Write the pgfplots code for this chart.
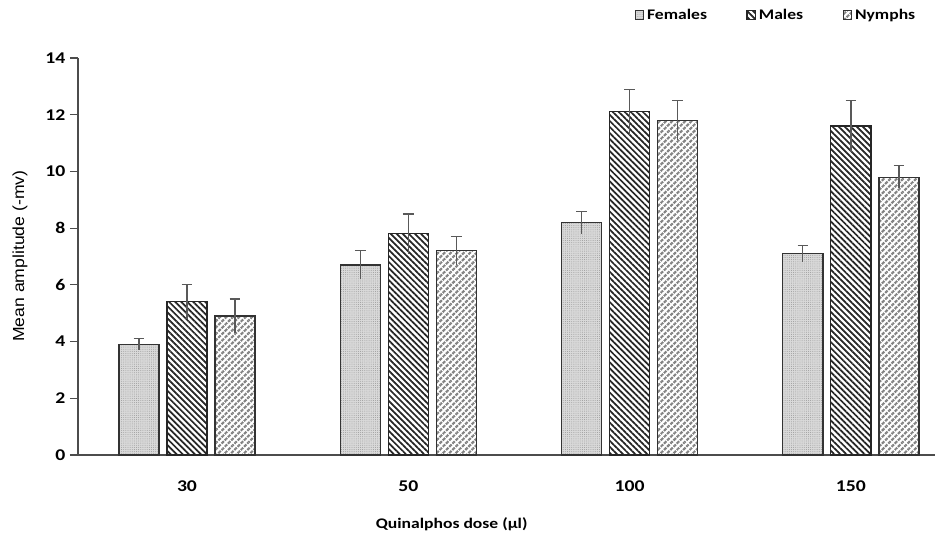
\documentclass[border=0pt]{standalone}
\usepackage{fontspec}
\setmainfont{Carlito}[FakeStretch=1.2]
\newfontfamily\labfont{Liberation Sans}[FakeStretch=1.1]
\usepackage{pgfplots}
\pgfplotsset{compat=1.18}
\usetikzlibrary{patterns,patterns.meta}

\pgfplotsset{
  fem/.style={draw=black!80, line width=0.9pt, fill=gray!30,
    postaction={pattern={Dots[distance=1.6pt,radius=0.35pt]}, pattern color=gray!80}},
  mal/.style={draw=black!85, line width=0.9pt, fill=white,
    postaction={pattern={Lines[angle=-45,distance=3.2pt,line width=1.3pt]}, pattern color=black!85}},
  nym/.style={draw=black!80, line width=0.9pt, fill=white,
    postaction={pattern={Lines[angle=45,distance=3.4pt,line width=1.6pt]}, pattern color=black!50},
    postaction={pattern={Lines[angle=-45,distance=3.4pt,line width=0.7pt]}, pattern color=white}},
  ebplus/.style={error bars/.cd, y dir=plus, y explicit,
    error bar style={line width=0.9pt, draw=black!65},
    error mark options={rotate=90, mark size=4pt, line width=0.9pt, draw=black!65}},
  ebminus/.style={forget plot, draw=none, mark=none, error bars/.cd, y dir=minus, y explicit,
    error bar style={line width=0.9pt, draw=black!65}, error mark=none},
}

\begin{document}
\begin{tikzpicture}
\path[use as bounding box] (-58.5pt,-61.5pt) rectangle (646.5pt,341.25pt);
\begin{axis}[
  at={(0,0)}, anchor=south west, scale only axis,
  width=642.75pt, height=297.75pt,
  xmin=-0.4925, xmax=3.38, ymin=0, ymax=14,
  axis lines*=left,
  axis line style={draw=black!70, line width=1pt},
  ytick={0,2,...,14}, ytick pos=left, tick align=outside,
  major tick length=6pt, y tick style={draw=black!70, line width=0.9pt},
  xtick={0,1,2,3}, xticklabels={30,50,100,150},
  x tick style={draw=none},
  ticklabel style={font=\bfseries\fontsize{12.3}{14}\selectfont},
  xticklabel style={yshift=-10pt},
  /pgf/number format/assume math mode=true,
  ylabel={Mean amplitude (-mv)},
  ylabel style={font=\labfont\fontsize{12}{14}\selectfont, at={(axis description cs:-0.0677,0.501)}, anchor=center},
  xlabel={Quinalphos dose (µl)},
  xlabel style={font=\bfseries\fontsize{11}{13}\selectfont, at={(axis description cs:0.436,-0.174)}, anchor=center},
  legend style={draw=none, fill=none, at={(axis description cs:0.985,1.108)}, anchor=east,
    legend columns=-1, font=\bfseries\fontsize{11}{13}\selectfont,
    /tikz/every even column/.append style={column sep=27.5pt}},
  legend image code/.code={\draw[#1] (0pt,-3.2pt) rectangle (6.5pt,3.2pt);},
]
% Females
\addplot[ybar, bar width=0.181, bar shift=0pt, fem, ebplus] coordinates {
  (-0.217,3.9) +- (0,0.2)
  (0.783,6.7) +- (0,0.5)
  (1.783,8.2) +- (0,0.4)
  (2.783,7.1) +- (0,0.3)
};
\addlegendentry{Females}
% Males
\addplot[ybar, bar width=0.181, bar shift=0pt, mal, ebplus] coordinates {
  (0,5.4) +- (0,0.6)
  (1,7.8) +- (0,0.7)
  (2,12.1) +- (0,0.8)
  (3,11.6) +- (0,0.9)
};
\addlegendentry{Males}
% Nymphs
\addplot[ybar, bar width=0.181, bar shift=0pt, nym, ebplus] coordinates {
  (0.217,4.9) +- (0,0.6)
  (1.217,7.2) +- (0,0.5)
  (2.217,11.8) +- (0,0.7)
  (3.217,9.8) +- (0,0.4)
};
\addlegendentry{Nymphs}
% lower halves of error bars
\addplot[ebminus] coordinates {
  (-0.217,3.9) +- (0,0.2) (0.783,6.7) +- (0,0.5) (1.783,8.2) +- (0,0.4) (2.783,7.1) +- (0,0.3)
  (0,5.4) +- (0,0.6) (1,7.8) +- (0,0.7) (2,12.1) +- (0,0.8) (3,11.6) +- (0,0.9)
  (0.217,4.9) +- (0,0.6) (1.217,7.2) +- (0,0.5) (2.217,11.8) +- (0,0.7) (3.217,9.8) +- (0,0.4)
};
\end{axis}
\end{tikzpicture}
\end{document}
